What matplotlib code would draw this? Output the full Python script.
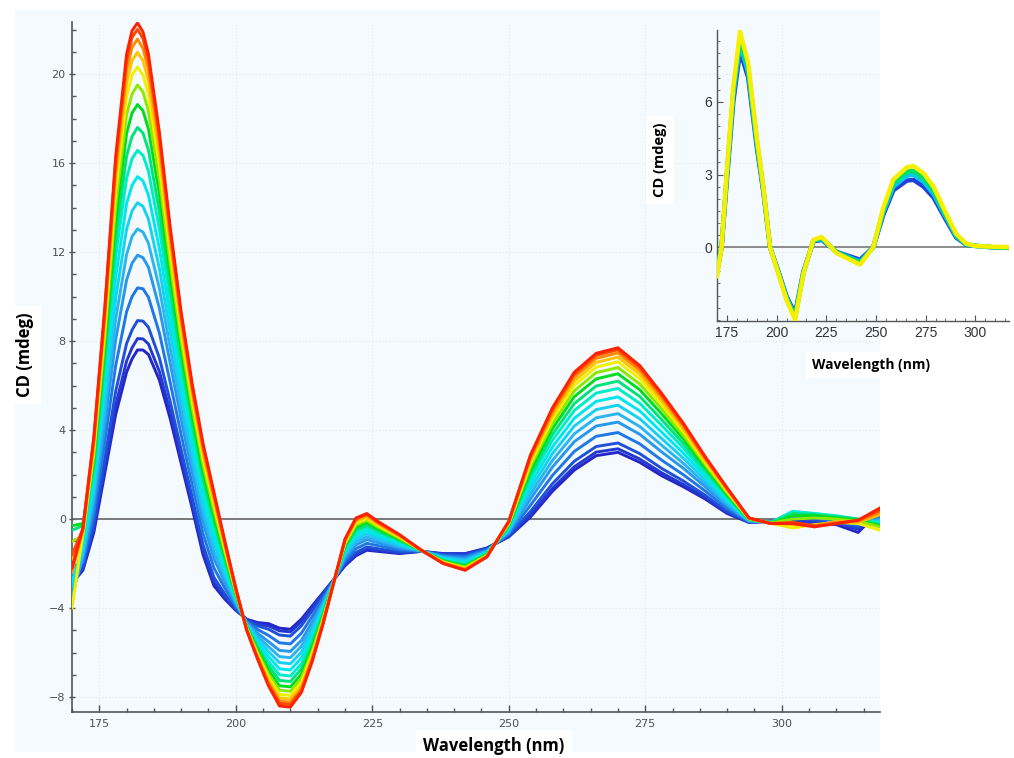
import matplotlib.pyplot as plt
from matplotlib.patches import Rectangle
from matplotlib.ticker import MultipleLocator, FixedLocator

# wavelength grid (nm) shared by all scans of the main panel
wavelength = [170, 172, 174, 176, 178, 180, 181, 182, 183, 184, 186, 188, 190, 192, 194, 196, 198,
              200, 202, 204, 206, 208, 210, 212, 214, 216, 218, 220, 222, 224, 226,
              230, 234, 238, 242, 246, 250, 254, 258, 262, 266, 270, 274, 278, 282, 286,
              290, 294, 298, 302, 306, 310, 314, 318]

# CD (mdeg), one list per scan, from the first (blue) to the last (red)
scan_01 = [-2.9, -2.3, -0.6, 2.05, 4.7, 6.6, 7.2, 7.6, 7.6, 7.4, 6.25, 4.5, 2.5, 0.5, -1.6, -3.0, -3.6, -4.1, -4.5, -4.65, -4.7, -4.9, -4.95, -4.5, -3.9, -3.3, -2.7, -2.1, -1.65, -1.4,
           -1.45, -1.55, -1.45, -1.55, -1.55, -1.3, -0.8, 0.1, 1.25, 2.2, 2.85, 3.0, 2.55, 1.95, 1.45, 0.9, 0.25, -0.15, -0.1,
           -0.15, -0.2, -0.25, -0.6, 0.4]
scan_02 = [-2.6, -2.23, -0.45, 2.31, 5.11, 7.1, 7.7, 8.11, 8.1, 7.87, 6.64, 4.8, 2.74, 0.7, -1.42, -2.85, -3.51, -4.07, -4.52, -4.71, -4.8, -5.02, -5.07, -4.62, -3.99, -3.35, -2.7, -2.06, -1.59, -1.34,
           -1.4, -1.52, -1.45, -1.57, -1.58, -1.31, -0.78, 0.2, 1.38, 2.35, 3.01, 3.16, 2.7, 2.08, 1.55, 0.97, 0.29, -0.14, -0.1,
           -0.05, -0.15, -0.2, -0.45, 0.3]
scan_03 = [-3.0, -2.13, -0.21, 2.72, 5.74, 7.89, 8.5, 8.92, 8.9, 8.62, 7.25, 5.27, 3.11, 1.0, -1.15, -2.62, -3.37, -4.01, -4.55, -4.8, -4.95, -5.21, -5.26, -4.8, -4.13, -3.43, -2.71, -1.99, -1.5, -1.25,
           -1.33, -1.47, -1.45, -1.59, -1.62, -1.34, -0.74, 0.35, 1.59, 2.6, 3.26, 3.42, 2.94, 2.28, 1.71, 1.07, 0.35, -0.13, -0.11,
           0.05, -0.05, -0.15, -0.35, 0.2]
scan_04 = [-2.2, -1.94, 0.22, 3.47, 6.9, 9.32, 10.0, 10.39, 10.35, 9.97, 8.37, 6.13, 3.79, 1.56, -0.65, -2.2, -3.11, -3.91, -4.6, -4.96, -5.23, -5.56, -5.61, -5.13, -4.38, -3.57, -2.72, -1.87, -1.33, -1.09,
           -1.19, -1.39, -1.44, -1.64, -1.69, -1.38, -0.67, 0.63, 1.96, 3.04, 3.72, 3.89, 3.38, 2.65, 1.99, 1.26, 0.47, -0.11, -0.12,
           0.1, 0.05, -0.1, -0.25, 0.1]
scan_05 = [-3.3, -1.75, 0.65, 4.21, 8.06, 10.75, 11.5, 11.86, 11.75, 11.32, 9.48, 6.99, 4.47, 2.12, -0.15, -1.78, -2.85, -3.81, -4.65, -5.13, -5.51, -5.9, -5.95, -5.46, -4.63, -3.71, -2.73, -1.75, -1.16, -0.92,
           -1.06, -1.3, -1.44, -1.68, -1.77, -1.42, -0.6, 0.91, 2.34, 3.48, 4.18, 4.36, 3.81, 3.02, 2.28, 1.45, 0.58, -0.09, -0.13,
           0.15, 0.1, -0.05, -0.2, 0.0]
scan_06 = [-3.5, -1.6, 0.99, 4.81, 8.99, 11.89, 12.7, 13.04, 12.9, 12.4, 10.38, 7.68, 5.02, 2.57, 0.25, -1.45, -2.64, -3.73, -4.69, -5.26, -5.74, -6.18, -6.23, -5.72, -4.83, -3.82, -2.74, -1.66, -1.02, -0.79,
           -0.95, -1.24, -1.43, -1.72, -1.83, -1.45, -0.54, 1.14, 2.64, 3.83, 4.55, 4.74, 4.16, 3.32, 2.5, 1.6, 0.68, -0.08, -0.14,
           0.2, 0.15, 0.0, -0.15, -0.05]
scan_07 = [-3.0, -1.44, 1.34, 5.4, 9.92, 13.04, 13.85, 14.22, 14.05, 13.48, 11.27, 8.37, 5.56, 3.02, 0.65, -1.11, -2.43, -3.65, -4.73, -5.39, -5.96, -6.45, -6.5, -5.99, -5.03, -3.93, -2.75, -1.56, -0.88, -0.66,
           -0.84, -1.17, -1.43, -1.75, -1.89, -1.48, -0.48, 1.36, 2.94, 4.18, 4.92, 5.12, 4.51, 3.62, 2.73, 1.76, 0.77, -0.06, -0.15,
           0.3, 0.2, 0.05, -0.1, -0.1]
scan_08 = [-2.8, -1.29, 1.68, 6.0, 10.85, 14.18, 15.0, 15.39, 15.2, 14.56, 12.16, 9.06, 6.1, 3.47, 1.05, -0.77, -2.22, -3.57, -4.77, -5.52, -6.18, -6.73, -6.78, -6.25, -5.23, -4.04, -2.75, -1.46, -0.75, -0.53,
           -0.73, -1.1, -1.42, -1.79, -1.95, -1.51, -0.43, 1.58, 3.24, 4.53, 5.29, 5.49, 4.86, 3.91, 2.96, 1.91, 0.86, -0.04, -0.15,
           0.35, 0.25, 0.1, -0.05, -0.15]
scan_09 = [-1.5, -1.14, 2.02, 6.59, 11.78, 15.32, 16.2, 16.57, 16.35, 15.64, 13.05, 9.75, 6.65, 3.92, 1.45, -0.44, -2.01, -3.49, -4.81, -5.66, -6.41, -7.0, -7.05, -6.51, -5.43, -4.15, -2.76, -1.37, -0.61, -0.39,
           -0.63, -1.03, -1.42, -1.82, -2.01, -1.54, -0.37, 1.81, 3.54, 4.88, 5.66, 5.87, 5.2, 4.21, 3.19, 2.06, 0.95, -0.03, -0.16,
           0.3, 0.25, 0.15, 0.0, -0.2]
scan_10 = [-0.5, -0.3, 2.32, 7.12, 12.59, 16.32, 17.2, 17.6, 17.35, 16.58, 13.83, 10.35, 7.12, 4.31, 1.8, -0.14, -1.83, -3.42, -4.84, -5.77, -6.6, -7.25, -7.3, -6.74, -5.6, -4.25, -2.77, -1.28, -0.49, -0.28,
           -0.53, -0.97, -1.42, -1.86, -2.06, -1.57, -0.32, 2.0, 3.8, 5.19, 5.98, 6.2, 5.51, 4.47, 3.39, 2.19, 1.03, -0.01, -0.17,
           0.25, 0.2, 0.1, 0.0, -0.25]
scan_11 = [-0.3, -0.2, 2.63, 7.64, 13.4, 17.33, 18.25, 18.63, 18.35, 17.53, 14.61, 10.95, 7.6, 4.7, 2.15, 0.15, -1.65, -3.35, -4.88, -5.89, -6.8, -7.49, -7.54, -6.98, -5.78, -4.35, -2.78, -1.2, -0.37, -0.16,
           -0.44, -0.91, -1.41, -1.89, -2.11, -1.6, -0.27, 2.2, 4.06, 5.5, 6.3, 6.53, 5.81, 4.73, 3.59, 2.33, 1.11, 0.0, -0.18,
           0.15, 0.15, 0.05, -0.05, -0.3]
scan_12 = [-1.0, -0.76, 2.88, 8.08, 14.1, 18.18, 19.1, 19.51, 19.2, 18.34, 15.28, 11.47, 8.01, 5.04, 2.45, 0.4, -1.49, -3.29, -4.91, -5.99, -6.97, -7.69, -7.74, -7.17, -5.93, -4.43, -2.78, -1.13, -0.27, -0.06,
           -0.36, -0.86, -1.41, -1.91, -2.16, -1.62, -0.23, 2.37, 4.29, 5.76, 6.58, 6.81, 6.07, 4.95, 3.76, 2.44, 1.18, 0.01, -0.18,
           0.0, 0.05, 0.0, -0.1, -0.35]
scan_13 = [-4.0, -0.66, 3.12, 8.49, 14.73, 18.97, 19.95, 20.32, 19.95, 19.08, 15.89, 11.94, 8.38, 5.34, 2.73, 0.63, -1.35, -3.23, -4.93, -6.08, -7.12, -7.88, -7.93, -7.35, -6.06, -4.51, -2.79, -1.06, -0.18, 0.03,
           -0.28, -0.81, -1.41, -1.94, -2.2, -1.65, -0.19, 2.52, 4.49, 6.01, 6.83, 7.07, 6.31, 5.15, 3.92, 2.54, 1.24, 0.02, -0.19,
           -0.4, -0.25, -0.15, -0.2, -0.5]
scan_14 = [-1.8, -0.57, 3.31, 8.83, 15.26, 19.61, 20.6, 20.98, 20.6, 19.69, 16.4, 12.33, 8.69, 5.6, 2.95, 0.82, -1.23, -3.19, -4.96, -6.15, -7.25, -8.04, -8.09, -7.5, -6.18, -4.57, -2.79, -1.01, -0.1, 0.1,
           -0.22, -0.78, -1.4, -1.96, -2.23, -1.66, -0.16, 2.65, 4.66, 6.2, 7.04, 7.28, 6.51, 5.32, 4.04, 2.63, 1.3, 0.03, -0.19,
           -0.25, -0.3, -0.1, -0.15, 0.2]
scan_15 = [-2.4, -0.49, 3.49, 9.13, 15.72, 20.19, 21.2, 21.57, 21.15, 20.23, 16.84, 12.67, 8.96, 5.82, 3.15, 0.99, -1.13, -3.15, -4.98, -6.22, -7.36, -8.18, -8.23, -7.64, -6.28, -4.63, -2.8, -0.96, -0.03, 0.17,
           -0.17, -0.74, -1.4, -1.98, -2.26, -1.68, -0.13, 2.76, 4.81, 6.38, 7.22, 7.47, 6.68, 5.47, 4.16, 2.71, 1.34, 0.04, -0.2,
           -0.2, -0.3, -0.15, -0.1, 0.3]
scan_16 = [-1.6, -0.44, 3.61, 9.35, 16.07, 20.61, 21.65, 22.01, 21.6, 20.63, 17.18, 12.93, 9.16, 5.99, 3.3, 1.12, -1.05, -3.12, -4.99, -6.27, -7.44, -8.28, -8.33, -7.73, -6.35, -4.67, -2.8, -0.92, 0.02, 0.22,
           -0.13, -0.72, -1.4, -1.99, -2.29, -1.69, -0.11, 2.84, 4.93, 6.51, 7.36, 7.61, 6.81, 5.58, 4.24, 2.76, 1.38, 0.05, -0.2,
           -0.15, -0.3, -0.2, -0.05, 0.4]
scan_17 = [-2.2, -0.4, 3.7, 9.5, 16.3, 20.9, 21.95, 22.3, 21.9, 20.9, 17.4, 13.1, 9.3, 6.1, 3.4, 1.2, -1.0, -3.1, -5.0, -6.3, -7.5, -8.4, -8.45, -7.8, -6.4, -4.7, -2.8, -0.9, 0.05, 0.25,
           -0.1, -0.7, -1.4, -2.0, -2.3, -1.7, -0.1, 2.9, 5.0, 6.6, 7.45, 7.7, 6.9, 5.65, 4.3, 2.8, 1.4, 0.05, -0.2,
           -0.2, -0.35, -0.2, -0.05, 0.5]

scans = [scan_01, scan_02, scan_03, scan_04, scan_05, scan_06, scan_07, scan_08, scan_09,
         scan_10, scan_11, scan_12, scan_13, scan_14, scan_15, scan_16, scan_17]
scan_colors = ["#2424c8", "#2438d0", "#2050d8", "#1f78e4", "#2898ec", "#2ab4f0", "#18d0f0",
               "#00e6ee", "#00ecc8", "#00e27a", "#00dc20", "#8ee800", "#f0f000", "#ffc400",
               "#ff8c00", "#ff4a00", "#ff2200"]

# inset panel
inset_wavelength = [170, 172.3, 174.9, 178.2, 181.6, 185.7, 190, 193.3, 196.7, 200.9, 205.1, 209.3,
                    213.5, 218.5, 222.7, 230.3, 242, 248.7, 253.8, 258.8, 265.6, 268.9, 274, 279,
                    285.3, 290.4, 295.4, 300, 308, 317]
inset_blue = [-1.0, 0, 2.7, 6.0, 8.1, 7.0, 4.15, 2.3, 0, -1.0, -2.05, -2.75, -1.0, 0.24, 0.3, -0.2, -0.52, 0,
              1.35, 2.35, 2.75, 2.78, 2.5, 2.05, 1.12, 0.4, 0.1, 0.05, 0.0, -0.03]
inset_cyan = [-0.9, 0, 2.85, 6.25, 8.4, 7.2, 4.3, 2.4, 0, -1.03, -2.1, -2.85, -1.05, 0.26, 0.34, -0.21, -0.6, 0,
              1.45, 2.5, 2.95, 3.0, 2.7, 2.2, 1.22, 0.45, 0.11, 0.05, 0.0, -0.02]
inset_green = [-1.1, 0, 2.95, 6.45, 8.65, 7.4, 4.45, 2.45, 0, -1.05, -2.15, -2.9, -1.08, 0.28, 0.38, -0.23, -0.65, 0,
               1.55, 2.65, 3.12, 3.15, 2.85, 2.35, 1.3, 0.5, 0.13, 0.06, 0.0, -0.03]
inset_yellow = [-1.2, 0, 3.05, 6.6, 8.9, 7.6, 4.55, 2.5, 0, -1.1, -2.2, -3.0, -1.1, 0.3, 0.42, -0.25, -0.72, 0,
                1.65, 2.8, 3.3, 3.35, 3.05, 2.5, 1.4, 0.55, 0.15, 0.05, 0.02, 0.0]
inset_scans = [inset_blue, inset_cyan, inset_green, inset_yellow]
inset_colors = ["#2040d8", "#00c8f0", "#00e060", "#f6f000"]

W, H = 1014, 758
fig = plt.figure(figsize=(W / 100, H / 100), dpi=100)


def fx(px):
    return px / W


def fy(py):
    return 1 - py / H


# pale backdrop of the original panel
fig.patches.append(Rectangle((fx(15), fy(752)), fx(880) - fx(15), fy(10) - fy(752),
                             transform=fig.transFigure, facecolor="#f4fafd",
                             edgecolor="none", zorder=-10))

# ---- main panel
ax = fig.add_axes([fx(72), fy(712), fx(880) - fx(72), fy(22) - fy(712)])
ax.set_facecolor("none")
for scan, col in zip(scans, scan_colors):
    ax.plot(wavelength, scan, color=col, lw=2.1, solid_joinstyle="round", zorder=3)
ax.axhline(0, color="#6e6e6e", lw=1.3, zorder=2)
ax.set_xlim(170, 318)
ax.set_ylim(-8.67, 22.34)

for s in ["top", "right"]:
    ax.spines[s].set_visible(False)
for s in ["left", "bottom"]:
    ax.spines[s].set_color("#555555")
    ax.spines[s].set_linewidth(1.2)

ax.xaxis.set_major_locator(MultipleLocator(25))
ax.xaxis.set_minor_locator(MultipleLocator(5))
ax.yaxis.set_major_locator(MultipleLocator(4))
ax.yaxis.set_minor_locator(MultipleLocator(1))
ax.tick_params(axis="x", which="both", direction="in", color="#555555",
               labelcolor="#505050", labelsize=8, pad=5)
ax.tick_params(axis="x", which="major", length=5, width=1)
ax.tick_params(axis="x", which="minor", length=3, width=1)
ax.tick_params(axis="y", which="major", direction="inout", length=5, width=1,
               color="#555555", labelcolor="#505050", labelsize=8, pad=2)
ax.tick_params(axis="y", which="minor", direction="in", length=3, width=1, color="#555555")
ax.grid(which="major", color="#e4eaed", ls=(0, (1, 2)), lw=0.8)
ax.set_axisbelow(True)

label_font = ["Open Sans", "DejaVu Sans"]
box = dict(facecolor="white", edgecolor="none", pad=5)
fig.text(fx(494), fy(746), "Wavelength (nm)", ha="center", va="center", fontsize=12,
         fontweight="bold", family=label_font, bbox=box)
fig.text(fx(25), fy(355), "CD (mdeg)", ha="center", va="center", rotation=90, fontsize=12,
         fontweight="bold", family=label_font, bbox=box)

# ---- inset panel
ins = fig.add_axes([fx(717), fy(321), fx(1009) - fx(717), fy(30) - fy(321)])
ins.set_facecolor("none")
for scan, col in zip(inset_scans, inset_colors):
    ins.plot(inset_wavelength, scan, color=col, lw=3.2, solid_joinstyle="round", zorder=3)
ins.axhline(0, color="#6e6e6e", lw=1.1, zorder=2)
ins.set_xlim(170, 317)
ins.set_ylim(-3.05, 8.97)
for s in ["top", "right"]:
    ins.spines[s].set_visible(False)
for s in ["left", "bottom"]:
    ins.spines[s].set_color("#555555")
    ins.spines[s].set_linewidth(1.0)
ins.xaxis.set_major_locator(MultipleLocator(25))
ins.xaxis.set_minor_locator(MultipleLocator(5))
ins.yaxis.set_major_locator(FixedLocator([0, 3, 6]))
ins.yaxis.set_minor_locator(MultipleLocator(0.5))
ins.tick_params(which="both", direction="in", color="#555555", labelcolor="#333333",
                labelsize=10)
ins.tick_params(which="major", length=4)
ins.tick_params(which="minor", length=2)
for lab in ins.get_xticklabels() + ins.get_yticklabels():
    lab.set_family(["Liberation Sans", "DejaVu Sans"])

fig.text(fx(871), fy(365), "Wavelength (nm)", ha="center", va="center", fontsize=10,
         fontweight="bold", family=label_font, bbox=dict(facecolor="white", edgecolor="none", pad=4))
fig.text(fx(660), fy(160), "CD (mdeg)", ha="center", va="center", rotation=90, fontsize=10.5,
         fontweight="bold", family=label_font, bbox=dict(facecolor="white", edgecolor="none", pad=5))

fig.savefig("out.png", dpi=100)
